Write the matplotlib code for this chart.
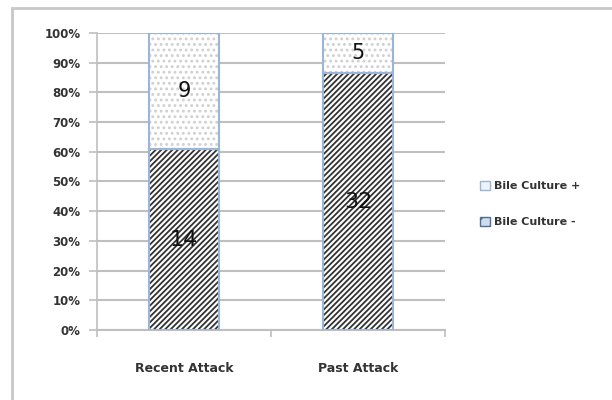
import matplotlib.pyplot as plt
import matplotlib.ticker as mticker
from matplotlib.patches import Patch
import numpy as np

categories = ['Recent Attack', 'Past Attack']
culture_neg = [14, 32]
culture_pos = [9, 5]
series_labels = ['Bile Culture +', 'Bile Culture -']

neg = np.array(culture_neg, dtype=float)
pos = np.array(culture_pos, dtype=float)
total = neg + pos
neg_pct = neg / total * 100
pos_pct = pos / total * 100

plt.rcParams['hatch.linewidth'] = 1.3

fig = plt.figure(figsize=(6.12, 4.0), dpi=100)
fig.patch.set_facecolor('white')

# outer chart border (Excel style)
border = plt.Rectangle((12 / 612, -0.05), 1.1, 1 - 8 / 400 + 0.05, transform=fig.transFigure,
                       fill=False, edgecolor='#c8c8c8', linewidth=2)
fig.patches.append(border)

ax = fig.add_axes([97 / 612, 1 - 330 / 400, (445 - 97) / 612, (330 - 33) / 400])

x = np.arange(len(categories))
width = 0.4
edge_blue = '#9ab5d6'

# hatched fills
ax.bar(x, neg_pct, width, color='white', edgecolor='#333333', hatch='//////', linewidth=0, zorder=3)
ax.bar(x, pos_pct, width, bottom=neg_pct, color='white', edgecolor='#d0d0d0', hatch='...', linewidth=0, zorder=3)
# blue outlines
ax.bar(x, neg_pct, width, fill=False, edgecolor=edge_blue, linewidth=1.5, zorder=4)
ax.bar(x, pos_pct, width, bottom=neg_pct, fill=False, edgecolor=edge_blue, linewidth=1.5, zorder=4)

for i in range(len(categories)):
    ax.text(x[i], neg_pct[i] / 2, str(culture_neg[i]), ha='center', va='center', fontsize=16, color='#111111', zorder=5)
    ax.text(x[i], neg_pct[i] + pos_pct[i] / 2, str(culture_pos[i]), ha='center', va='center', fontsize=15, color='#111111', zorder=5)

ax.set_xlim(-0.5, 1.5)
ax.set_ylim(0, 100)
ax.yaxis.set_major_locator(mticker.MultipleLocator(10))
ax.yaxis.set_major_formatter(mticker.FuncFormatter(lambda v, p: f'{int(v)}%'))
ax.grid(axis='y', color='#bfbfbf', linewidth=1.5, zorder=0)
ax.set_axisbelow(True)

ax.set_xticks(x)
ax.set_xticklabels(categories, fontsize=9, color='#333333', fontweight='bold')
ax.set_xticks([-0.5, 0.5, 1.5], minor=True)
ax.tick_params(axis='x', which='major', length=0, pad=23)
ax.tick_params(axis='x', which='minor', length=5, color='#bfbfbf', width=1.2)
ax.tick_params(axis='y', length=6, color='#bfbfbf', width=1.2, labelsize=8.5, labelcolor='#333333', pad=6)
for lbl in ax.get_yticklabels():
    lbl.set_fontweight('bold')

for s in ['top', 'right']:
    ax.spines[s].set_visible(False)
ax.spines['left'].set_color('#bfbfbf')
ax.spines['left'].set_linewidth(1.2)
ax.spines['bottom'].set_color('#bfbfbf')
ax.spines['bottom'].set_linewidth(1.5)

# legend
handles = [
    Patch(facecolor='#eef3fa', edgecolor=edge_blue, linewidth=1.0, label=series_labels[0]),
    Patch(facecolor='#cfdcec', edgecolor='#4f6f98', hatch='//', linewidth=1.0, label=series_labels[1]),
]
fig.legend(handles=handles, loc='center left', bbox_to_anchor=(470 / 612, 1 - 204 / 400),
           frameon=False, prop={'size': 8, 'weight': 'bold'}, handlelength=0.9, handleheight=0.9,
           handletextpad=0.4, labelspacing=2.3, labelcolor='#333333')

fig.savefig('out.png', dpi=100)
